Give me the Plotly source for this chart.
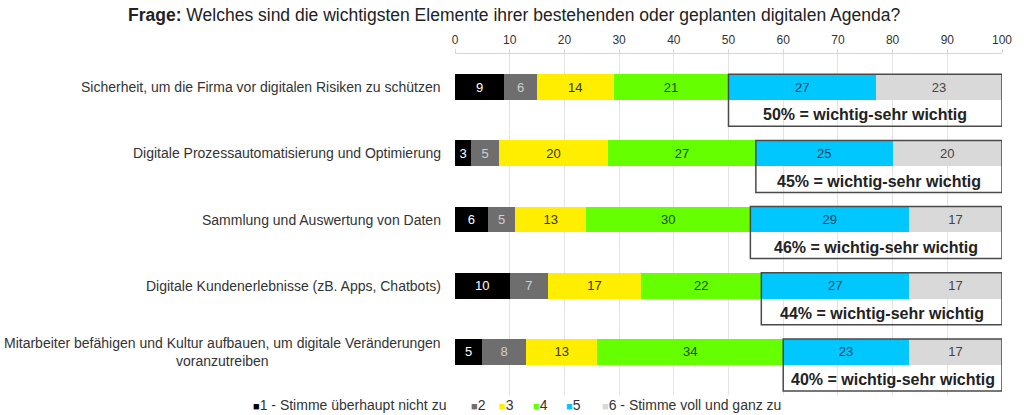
import plotly.graph_objects as go

categories = [
    "Sicherheit, um die Firma vor digitalen Risiken zu schützen",
    "Digitale Prozessautomatisierung und Optimierung",
    "Sammlung und Auswertung von Daten",
    "Digitale Kundenerlebnisse (zB. Apps, Chatbots)",
    "Mitarbeiter befähigen und Kultur aufbauen, um digitale Veränderungen<br>voranzutreiben",
]
series_names = ["1 - Stimme überhaupt nicht zu", "2", "3", "4", "5", "6 - Stimme voll und ganz zu"]
s1 = [9, 3, 6, 10, 5]
s2 = [6, 5, 5, 7, 8]
s3 = [14, 20, 13, 17, 13]
s4 = [21, 27, 30, 22, 34]
s5 = [27, 25, 29, 27, 23]
s6 = [23, 20, 17, 17, 17]
important_pct = [50, 45, 46, 44, 40]
x_ticks = [0, 10, 20, 30, 40, 50, 60, 70, 80, 90, 100]

series = [s1, s2, s3, s4, s5, s6]
colors = ["#000000", "#6e6e6e", "#ffee00", "#66ff00", "#00c8ff", "#d9d9d9"]
text_colors = ["#ffffff", "#cfcfcf", "#333300", "#1f4d00", "#0b3d57", "#444444"]

FONT = "Liberation Sans, Arial, sans-serif"
W, H = 1024, 415
ML, MR, MT, MB = 455, 13, 54, 20
PW, PH = W - ML - MR, H - MT - MB


def px_to_paper_x(px):
    return (px - ML) / PW


def px_to_paper_y(py):
    return (H - MB - py) / PH


ypos = list(range(len(categories)))
bar_w = 0.39

fig = go.Figure()
for name, vals, c, tc in zip(series_names, series, colors, text_colors):
    fig.add_trace(go.Bar(
        y=ypos, x=vals, orientation="h", name=name, width=bar_w,
        marker=dict(color=c, line=dict(width=0)),
        text=[str(v) for v in vals], textposition="inside",
        insidetextanchor="middle", textangle=0,
        textfont=dict(size=13, color=tc, family=FONT),
        constraintext="none", hoverinfo="skip", showlegend=False,
    ))

shapes = []
annotations = []
for i, cat in enumerate(categories):
    start = s1[i] + s2[i] + s3[i] + s4[i]
    shapes.append(dict(
        type="rect", xref="x", yref="y",
        x0=start, x1=100, y0=i - bar_w / 2, y1=i + 0.59,
        line=dict(color="#4a4a4a", width=1.5), fillcolor="rgba(0,0,0,0)", layer="above",
    ))
    annotations.append(dict(
        xref="x", yref="y", x=(start + 100) / 2, y=i + 0.42,
        text=f"<b>{important_pct[i]}% = wichtig-sehr wichtig</b>", showarrow=False,
        font=dict(size=16, color="#222222", family=FONT),
        xanchor="center", yanchor="middle",
    ))
    annotations.append(dict(
        xref="paper", yref="y", x=0, y=i, xshift=-12,
        text=cat, showarrow=False, align="center",
        font=dict(size=14, color="#333333", family=FONT),
        xanchor="right", yanchor="middle",
    ))

# title
annotations.append(dict(
    xref="paper", yref="paper", x=px_to_paper_x(121), y=px_to_paper_y(15),
    text="<b>Frage:</b> Welches sind die wichtigsten Elemente ihrer bestehenden oder geplanten digitalen Agenda?",
    showarrow=False, xanchor="left", yanchor="middle",
    font=dict(size=17.5, color="#222222", family=FONT),
))

# legend (manual, compact like the reference)
legend_px = [248, 469, 498, 532, 566, 602]
for name, c, lx in zip(series_names, colors, legend_px):
    annotations.append(dict(
        xref="paper", yref="paper", x=px_to_paper_x(lx), y=px_to_paper_y(405),
        text=f"<span style='color:{c};font-size:11px'>■</span>{name}",
        showarrow=False, xanchor="left", yanchor="middle",
        font=dict(size=14, color="#333333", family=FONT),
    ))

fig.update_layout(
    width=W, height=H,
    margin=dict(l=ML, r=MR, t=MT, b=MB),
    barmode="stack",
    plot_bgcolor="white", paper_bgcolor="white",
    shapes=shapes, annotations=annotations,
    showlegend=False,
    xaxis=dict(
        range=[0, 100], side="top", tickvals=x_ticks, ticktext=[str(t) for t in x_ticks],
        showgrid=True, gridcolor="#e3e3e3", gridwidth=1, zeroline=False,
        showline=True, linecolor="#d6d6d6", linewidth=1,
        ticks="outside", ticklen=4, tickcolor="#d6d6d6",
        tickfont=dict(size=12, color="#333333", family=FONT),
    ),
    yaxis=dict(
        range=[4.65, -0.5], showticklabels=False, showgrid=False, zeroline=False, ticks="",
    ),
)

fig.write_html("out.html")
